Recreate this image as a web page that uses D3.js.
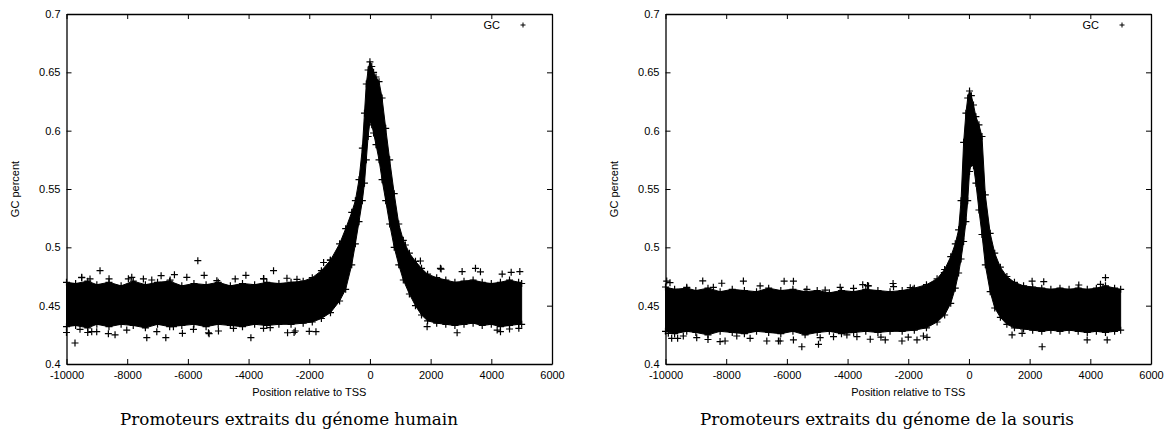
<!DOCTYPE html>
<html>
<head>
<meta charset="utf-8">
<script src="https://cdn.jsdelivr.net/npm/d3@7"></script>
<style>
  body { margin: 0; background: #fff; }
  .tick text { font-family: "Liberation Sans", Arial, sans-serif; font-size: 11px; fill: #000; }
  .lbl { font-family: "Liberation Sans", Arial, sans-serif; font-size: 11px; fill: #000; }
  .cap { font-family: "DejaVu Serif", serif; font-size: 16.5px; fill: #000; }
</style>
</head>
<body>
<script>
// axis ticks
var xTicks = [-10000, -8000, -6000, -4000, -2000, 0, 2000, 4000, 6000];
var yTicks = [0.4, 0.45, 0.5, 0.55, 0.6, 0.65, 0.7];

// human promoters : envelope of the dense cloud of points
var humanPos = [-10000,-9700,-9300,-9000,-8600,-8200,-7800,-7400,-7000,-6600,-6200,-5800,-5400,-5000,-4600,-4200,-3800,-3400,-3000,-2600,-2200,-1900,-1600,-1300,-1000,-800,-600,-480,-360,-250,-180,-120,-60,0,60,120,200,300,400,520,650,800,950,1100,1300,1500,1700,1900,2200,2500,2800,3100,3400,3700,4000,4300,4600,4900,5000];
var humanUpper = [0.470,0.469,0.471,0.468,0.470,0.467,0.471,0.468,0.470,0.471,0.467,0.469,0.468,0.470,0.467,0.469,0.468,0.470,0.469,0.470,0.471,0.474,0.480,0.489,0.503,0.516,0.530,0.540,0.558,0.585,0.615,0.640,0.652,0.659,0.655,0.650,0.646,0.642,0.628,0.602,0.575,0.546,0.520,0.506,0.495,0.488,0.482,0.477,0.474,0.472,0.470,0.471,0.472,0.470,0.469,0.470,0.472,0.470,0.469];
var humanLower = [0.432,0.433,0.431,0.434,0.432,0.434,0.433,0.431,0.434,0.432,0.433,0.434,0.432,0.434,0.433,0.432,0.434,0.433,0.434,0.434,0.435,0.436,0.439,0.444,0.454,0.464,0.485,0.503,0.522,0.540,0.555,0.575,0.595,0.608,0.605,0.598,0.588,0.575,0.558,0.540,0.520,0.500,0.485,0.472,0.460,0.450,0.442,0.437,0.435,0.434,0.433,0.434,0.435,0.433,0.434,0.432,0.433,0.434,0.434];
// scattered points outside the cloud
var humanOutX = [-10000,-9720,-9500,-9300,-8895,-8620,-8400,-8598,-7961,-7354,-6882,-6727,-6443,-6180,-5672,-5463,-5300,-4440,-4088,-3923,-3500,-3177,-2715,-2500,-1779,-2000,-1527,-1306,1168,1663,1884,2345,2873,3038,3478,3642,4302,4655,4940,4600,
  -9499,-9225,-7849,-7466,-7190,-6585,-6035,-5045,-3507,-2735,-2405,
  -9555,-9169,-9004,-8014,-7024,-6476,-5816,-5322,-4992,-4497,-3507,-3286,-2461,
  2323,4358,4193,4907];
var humanOutY = [0.427,0.418,0.474,0.427,0.480,0.426,0.425,0.473,0.473,0.4226,0.4757,0.4226,0.4766,0.4263,0.4886,0.476,0.426,0.4729,0.476,0.4226,0.473,0.480,0.4268,0.427,0.4277,0.428,0.487,0.489,0.502,0.4883,0.432,0.4814,0.4268,0.4792,0.482,0.479,0.4277,0.4786,0.4792,0.430,
  0.4743,0.4729,0.4743,0.4729,0.472,0.472,0.4743,0.4714,0.4732,0.4735,0.4726,
  0.4297,0.4277,0.4277,0.4291,0.4277,0.432,0.4297,0.4268,0.4283,0.4306,0.4306,0.4311,0.4283,
  0.482,0.4771,0.4291,0.4306];

// mouse promoters
var mousePos = [-10000,-9700,-9300,-9000,-8600,-8200,-7800,-7400,-7000,-6600,-6200,-5800,-5400,-5000,-4600,-4200,-3800,-3400,-3000,-2600,-2200,-1800,-1400,-1050,-800,-600,-450,-340,-260,-175,-100,-40,20,80,150,230,330,430,540,700,850,1036,1250,1500,1800,2100,2400,2700,3000,3300,3600,3900,4200,4500,4800,5000];
var mouseUpper = [0.466,0.464,0.465,0.463,0.465,0.462,0.464,0.463,0.462,0.465,0.463,0.464,0.462,0.463,0.461,0.463,0.462,0.464,0.463,0.462,0.463,0.465,0.468,0.473,0.481,0.492,0.503,0.515,0.540,0.590,0.615,0.628,0.634,0.630,0.622,0.612,0.605,0.595,0.545,0.512,0.495,0.483,0.475,0.470,0.467,0.466,0.465,0.464,0.465,0.464,0.465,0.464,0.465,0.467,0.465,0.464];
var mouseLower = [0.428,0.426,0.428,0.427,0.425,0.428,0.427,0.426,0.428,0.427,0.426,0.428,0.425,0.427,0.428,0.426,0.427,0.428,0.427,0.428,0.428,0.429,0.431,0.436,0.442,0.452,0.465,0.478,0.490,0.505,0.522,0.540,0.565,0.572,0.570,0.555,0.532,0.511,0.485,0.462,0.448,0.440,0.434,0.431,0.430,0.429,0.428,0.429,0.428,0.429,0.428,0.427,0.428,0.427,0.428,0.429];
var mouseOutX = [-9960,-9300,-8773,-8202,-8600,-7433,-6278,-6090,-5784,-5507,-4958,-9600,-3500,-2500,-1845,-812,-2000,-1500,1421,2082,2412,2465,3896,4500,4556,-2900,
  -9852,-8423,-8146,-6882,-5341,-4738,-4243,-3804,-3309,
  -9907,-9797,-9413,-8971,-8037,-7651,-7212,-6661,-6222,-5784,-4903,-4463,-4022,-3692,-3253,
  1752,3620,4335,-3342,-2485,-1934,-2758,-2207,-1712,-1382];
var mouseOutY = [0.4711,0.4657,0.4712,0.4192,0.421,0.4711,0.4197,0.471,0.471,0.4148,0.4169,0.422,0.468,0.469,0.464,0.4783,0.423,0.424,0.4249,0.471,0.4148,0.4706,0.4206,0.474,0.4206,0.423,
  0.4697,0.4657,0.4692,0.4669,0.464,0.4634,0.4657,0.4649,0.4669,
  0.4263,0.422,0.424,0.4226,0.4197,0.424,0.422,0.4197,0.4197,0.4206,0.4226,0.4234,0.4249,0.4234,0.4212,
  0.4263,0.4677,0.4683,0.4672,0.4663,0.4654,0.4206,0.4197,0.4206,0.4229];

var w = 1176, h = 439;
var svg = d3.select("body").append("svg").attr("width", w).attr("height", h);

var plus = "M-3.5,0H3.5M0,-3.5V3.5";

function drawPanel(left, right, pos, upper, lower, outX, outY, caption, capX, capWidth) {
  var x = d3.scaleLinear().domain([-10000, 6000]).range([left, right]);
  var y = d3.scaleLinear().domain([0.4, 0.7]).range([364, 14]);
  var g = svg.append("g");

  // the cloud
  var area = d3.area()
    .x(function(d, i) { return x(pos[i]); })
    .y0(function(d, i) { return y(lower[i]); })
    .y1(function(d, i) { return y(upper[i]); });
  g.append("path").datum(pos).attr("d", area)
    .attr("fill", "#000").attr("stroke", "#000").attr("stroke-width", 1);

  // ragged edges
  var edge = pos.map(function(p, i) { return [p, upper[i]]; })
    .concat(pos.map(function(p, i) { return [p, lower[i]]; }));
  g.selectAll(".edge").data(edge).enter().append("path")
    .attr("d", plus)
    .attr("transform", function(d) { return "translate(" + x(d[0]) + "," + y(d[1]) + ")"; })
    .attr("stroke", "#000").attr("stroke-width", 1.2);

  g.selectAll(".out").data(outX).enter().append("path")
    .attr("d", plus)
    .attr("transform", function(d, i) { return "translate(" + x(d) + "," + y(outY[i]) + ")"; })
    .attr("stroke", "#000").attr("stroke-width", 1.2);

  // axes, ticks inward on all four sides
  var fmt = function(d) { return String(d); };
  g.append("g").attr("transform", "translate(0,364)")
    .call(d3.axisBottom(x).tickValues(xTicks).tickSize(-5).tickSizeOuter(0).tickPadding(7).tickFormat(fmt));
  g.append("g").attr("transform", "translate(" + left + ",0)")
    .call(d3.axisLeft(y).tickValues(yTicks).tickSize(-5).tickSizeOuter(0).tickPadding(6).tickFormat(fmt));
  g.append("g").attr("transform", "translate(0,14)")
    .call(d3.axisTop(x).tickValues(xTicks).tickSize(-5).tickSizeOuter(0).tickFormat(""));
  g.append("g").attr("transform", "translate(" + right + ",0)")
    .call(d3.axisRight(y).tickValues(yTicks).tickSize(-5).tickSizeOuter(0).tickFormat(""));
  g.selectAll(".domain").attr("stroke", "#000").attr("stroke-width", 1.3);
  g.selectAll(".tick line").attr("stroke", "#000");

  // labels
  var mid = (left + right) / 2;
  g.append("text").attr("class", "lbl").attr("x", mid).attr("y", 396)
    .attr("text-anchor", "middle").text("Position relative to TSS");
  g.append("text").attr("class", "lbl")
    .attr("transform", "translate(" + (left - 48) + "," + 189 + ") rotate(-90)")
    .attr("text-anchor", "middle").text("GC percent");

  // legend
  g.append("text").attr("class", "lbl").attr("x", right - 52).attr("y", 29)
    .attr("text-anchor", "end").text("GC");
  g.append("path").attr("d", "M-2.5,0H2.5M0,-2.5V2.5")
    .attr("transform", "translate(" + (right - 29) + ",25)")
    .attr("stroke", "#000").attr("stroke-width", 1);

  // caption under the sub-figure
  svg.append("text").attr("class", "cap").attr("x", capX).attr("y", 425)
    .attr("text-anchor", "middle")
    .attr("textLength", capWidth).attr("lengthAdjust", "spacingAndGlyphs")
    .text(caption);
}

drawPanel(66.5, 552, humanPos, humanUpper, humanLower, humanOutX, humanOutY,
  "Promoteurs extraits du génome humain", 289, 338);
drawPanel(665.5, 1151, mousePos, mouseUpper, mouseLower, mouseOutX, mouseOutY,
  "Promoteurs extraits du génome de la souris", 887, 374);
</script>
</body>
</html>
